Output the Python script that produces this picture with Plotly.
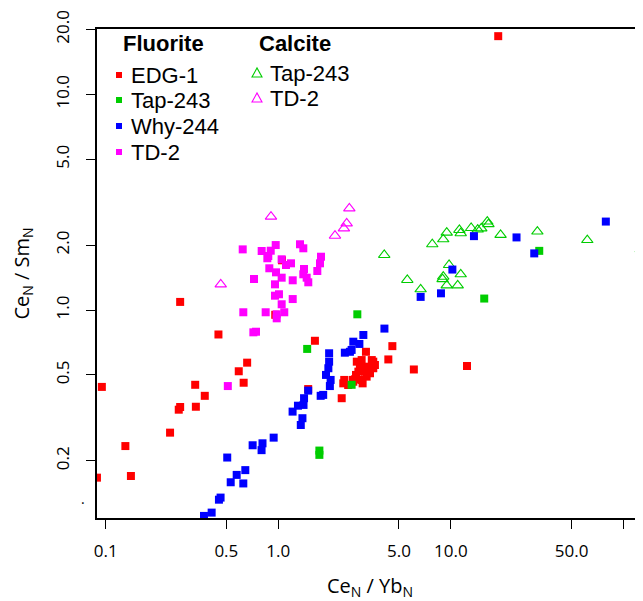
import plotly.graph_objects as go

# ---------------- data (Ce_N/Yb_N , Ce_N/Sm_N) ----------------
# Fluorite
edg1_x = [18.8, 0.27, 0.45, 0.66, 0.59, 1.63, 0.96, 1.05, 0.095, 0.13, 0.14, 0.089, 0.236, 0.265,
          0.27, 0.33, 0.375, 0.333, 0.63, 1.49, 4.58, 4.34, 6.1, 2.33, 12.4,
          3.22, 3.04, 3.48, 3.63, 2.97, 3.25, 3.55, 3.18, 2.91, 3.25, 3.04, 2.78, 3.08, 2.41,
          2.38, 2.72, 2.54, 3.40, 2.85, 2.82, 2.70, 3.55]
edg1_y = [18.6, 1.09, 0.77, 0.57, 0.52, 0.72, 0.95, 1.70, 0.44, 0.234, 0.17, 0.167, 0.27, 0.345,
          0.355, 0.45, 0.40, 0.356, 0.46, 0.43, 0.68, 0.59, 0.53, 0.39, 0.55,
          0.64, 0.586, 0.586, 0.556, 0.546, 0.546, 0.537, 0.518, 0.518, 0.491, 0.474, 0.477, 0.457, 0.474,
          0.457, 0.465, 0.449, 0.509, 0.576, 0.50, 0.474, 0.576]

tap243_x = [1.47, 2.87, 2.66, 1.73, 1.73, 15.6, 32.5]
tap243_y = [0.66, 0.955, 0.45, 0.223, 0.213, 1.13, 1.88]

why244_x = [0.371, 0.411, 0.453, 0.463, 0.506, 0.53, 0.574, 0.627, 0.644, 0.71, 0.80, 0.81, 0.94,
            1.21, 1.30, 1.40, 1.41, 1.35, 1.38, 1.49, 1.76, 1.82,
            1.97, 1.97, 1.95, 1.89, 2.01, 1.99, 2.43, 2.60, 2.66, 2.72, 2.95, 3.11, 4.12,
            6.68, 8.76, 10.2, 13.6, 24.0, 30.4, 79.0]
why244_y = [0.111, 0.115, 0.132, 0.135, 0.207, 0.159, 0.172, 0.157, 0.181, 0.236, 0.224, 0.241, 0.256,
            0.338, 0.36, 0.363, 0.39, 0.293, 0.315, 0.423, 0.40, 0.404,
            0.63, 0.576, 0.537, 0.50, 0.474, 0.444, 0.634, 0.64, 0.653, 0.713, 0.696, 0.766, 0.82,
            1.15, 1.195, 1.54, 2.2, 2.17, 1.83, 2.57]

td2_x = [0.622, 0.801, 0.875, 0.904, 0.966, 0.864, 1.046, 1.108, 1.185, 1.336, 1.396, 0.887, 0.970,
         1.046, 0.723, 0.957, 1.212, 1.409, 1.396, 1.46, 1.492, 1.768, 1.744, 1.683, 0.957, 1.009,
         1.212, 1.046, 0.627, 0.845, 0.979, 1.083, 0.979, 0.717, 0.743, 0.51]
td2_y = [1.91, 1.877, 1.78, 1.883, 2.00, 1.737, 1.718, 1.617, 1.646, 2.017, 1.932, 1.561, 1.495,
         1.412, 1.392, 1.315, 1.373, 1.549, 1.464, 1.412, 1.344, 1.766, 1.646, 1.516, 1.165, 1.183,
         1.124, 1.063, 0.976, 0.976, 0.955, 0.976, 0.915, 0.788, 0.793, 0.444]

# Calcite
cal_tap243_x = [4.11, 5.59, 6.68, 7.80, 9.03, 9.46, 9.03, 8.95, 9.46, 9.76, 10.95, 11.4, 11.2, 11.4,
                13.1, 14.3, 15.0, 16.25, 16.5, 19.4, 31.7, 61.7, 126]
cal_tap243_y = [1.80, 1.378, 1.247, 2.017, 2.127, 2.283, 1.427, 1.39, 1.30, 1.617, 1.30, 1.464, 2.35,
                2.27, 2.40, 2.36, 2.39, 2.57, 2.50, 2.23, 2.31, 2.11, 1.91]

cal_td2_x = [0.907, 0.464, 2.58, 2.49, 2.40, 2.13]
cal_td2_y = [2.708, 1.315, 2.96, 2.52, 2.39, 2.21]

x_tickvals = [0.1, 0.5, 1, 5, 10, 50, 100]
x_ticktext = ["0.1", "0.5", "1.0", "5.0", "10.0", "50.0", " "]
y_tickvals = [0.2, 0.5, 1, 2, 5, 10, 20]
y_ticktext = ["0.2", "0.5", "1.0", "2.0", "5.0", "10.0", "20.0"]

RED, GREEN, BLUE, MAGENTA = "#FF0000", "#00CD00", "#0000FF", "#FF00FF"

fig = go.Figure()

def tri(x, y, color, name):
    fig.add_trace(go.Scatter(x=x, y=y, mode="markers", name=name,
                             marker=dict(symbol="triangle-up-open", size=10, color=color,
                                         line=dict(width=1.1, color=color))))

def sq(x, y, color, name):
    fig.add_trace(go.Scatter(x=x, y=y, mode="markers", name=name,
                             marker=dict(symbol="square", size=8, color=color, line=dict(width=0))))

tri(cal_tap243_x, cal_tap243_y, GREEN, "Calcite Tap-243")
tri(cal_td2_x, cal_td2_y, MAGENTA, "Calcite TD-2")
sq(edg1_x, edg1_y, RED, "Fluorite EDG-1")
sq(tap243_x, tap243_y, GREEN, "Fluorite Tap-243")
sq(why244_x, why244_y, BLUE, "Fluorite Why-244")
sq(td2_x, td2_y, MAGENTA, "Fluorite TD-2")

TICKFONT = dict(family="Open Sans", size=17, color="black")
TITLEFONT = dict(family="Open Sans", size=20, color="black")

fig.update_layout(
    template="none",
    width=635, height=593,
    margin=dict(l=89, r=0, t=21, b=83, pad=0),
    plot_bgcolor="white", paper_bgcolor="white",
    showlegend=False,
    xaxis=dict(type="log", range=[-1.0504, 2.113], tickvals=x_tickvals, ticktext=x_ticktext,
               ticks="outside", ticklen=9, tickwidth=1.3, tickcolor="black",
               showline=True, linecolor="black", linewidth=1.5, mirror=True,
               showgrid=False, zeroline=False, automargin=False,
               tickfont=TICKFONT, ticklabelstandoff=8,
               title=dict(text="Ce<sub>N</sub> / Yb<sub>N</sub>", font=TITLEFONT, standoff=23)),
    yaxis=dict(type="log", range=[-0.9643, 1.3027], tickvals=y_tickvals, ticktext=y_ticktext,
               ticks="outside", ticklen=9, tickwidth=1.3, tickcolor="black", tickangle=-90,
               showline=True, linecolor="black", linewidth=1.5, mirror=False,
               showgrid=False, zeroline=False, automargin=False,
               tickfont=TICKFONT, ticklabelstandoff=10,
               title=dict(text="Ce<sub>N</sub> / Sm<sub>N</sub>", font=TITLEFONT, standoff=19)),
)

# stray dot left of the y axis, as in the reference
fig.add_annotation(text=".", xref="paper", yref="paper", x=0, y=0, xshift=-14, yshift=20,
                   xanchor="center", yanchor="middle", showarrow=False,
                   font=dict(family="Open Sans", size=14, color="black"))

# ---------------- legend (text + keys) ----------------
LEGFONT = dict(family="Liberation Sans", size=22, color="black")
HEADFONT = dict(family="Liberation Sans", size=22, color="black")

def note(text, xs, ys, font, anchor="left"):
    fig.add_annotation(text=text, xref="paper", yref="paper", x=0, y=1, xshift=xs, yshift=ys,
                       xanchor=anchor, yanchor="middle", showarrow=False, font=font)

note("<b>Fluorite</b>", 24, -14, HEADFONT)
note("<b>Calcite</b>", 160, -14, HEADFONT)
fl_items = [("EDG-1", RED, -46), ("Tap-243", GREEN, -71), ("Why-244", BLUE, -97), ("TD-2", MAGENTA, -123)]
for label, col, ys in fl_items:
    note(label, 32, ys, LEGFONT)
    fig.add_shape(type="rect", xref="paper", yref="paper", xsizemode="pixel", ysizemode="pixel",
                  xanchor=0, yanchor=1, x0=19, x1=25, y0=ys - 3, y1=ys + 3,
                  fillcolor=col, line=dict(width=0))
cal_items = [("Tap-243", GREEN, -44), ("TD-2", MAGENTA, -69)]
for label, col, ys in cal_items:
    note(label, 171, ys, LEGFONT)
    fig.add_shape(type="path", xref="paper", yref="paper", xsizemode="pixel", ysizemode="pixel",
                  xanchor=0, yanchor=1,
                  path=f"M155,{ys-4} L165,{ys-4} L160,{ys+5} Z",
                  fillcolor="rgba(0,0,0,0)", line=dict(color=col, width=1.1))

fig.write_html("out.html")
